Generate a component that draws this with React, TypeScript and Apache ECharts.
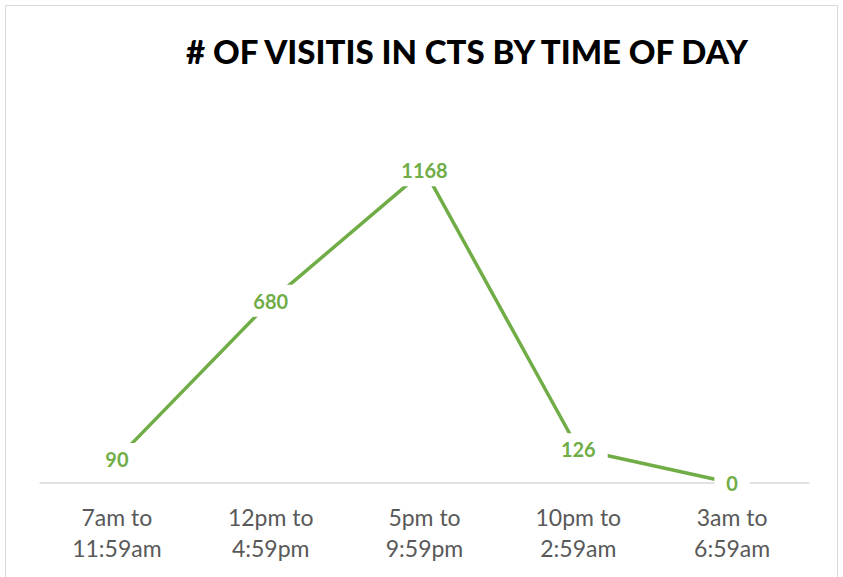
import React, { useEffect, useRef } from "react";
import * as echarts from "echarts";

const categories = [
  "7am to\n11:59am",
  "12pm to\n4:59pm",
  "5pm to\n9:59pm",
  "10pm to\n2:59am",
  "3am to\n6:59am",
];
const visits = [90, 680, 1168, 126, 0];
const titleText = "# OF VISITIS IN CTS BY TIME OF DAY";

export default function App() {
  const ref = useRef<HTMLDivElement>(null);
  useEffect(() => {
    if (!ref.current) return;
    const chart = echarts.init(ref.current, null, { renderer: "svg" });
    chart.setOption({
      animation: false,
      backgroundColor: "#ffffff",
      title: {
        text: titleText,
        left: 462,
        top: 29,
        textAlign: "center",
        textStyle: {
          fontFamily: "Lato",
          fontWeight: 900,
          fontSize: 33,
          color: "#000000",
        },
      },
      graphic: [
        {
          type: "rect",
          shape: { x: 5.5, y: 5.5, width: 832, height: 600 },
          style: { fill: "none", stroke: "#d9d9d9", lineWidth: 1 },
          silent: true,
        },
      ],
      grid: { left: 40, right: 34, top: 108, bottom: 94 },
      xAxis: {
        type: "category",
        data: categories,
        boundaryGap: true,
        axisLine: { lineStyle: { color: "#d9d9d9", width: 1.5 } },
        axisTick: { show: false },
        axisLabel: {
          color: "#595959",
          fontFamily: "Lato",
          fontSize: 23,
          lineHeight: 31,
          margin: 18,
        },
      },
      yAxis: {
        type: "value",
        min: 0,
        max: 1400,
        show: false,
        splitLine: { show: false },
      },
      series: [
        {
          type: "line",
          data: visits,
          showSymbol: true,
          symbol: "circle",
          symbolSize: 2,
          itemStyle: { color: "#70AD47" },
          lineStyle: { color: "#70AD47", width: 3.5 },
          z: 3,
          label: {
            show: true,
            position: "inside",
            color: "#70AD47",
            fontFamily: "Lato",
            fontWeight: "bold",
            fontSize: 20,
            backgroundColor: "#ffffff",
            padding: [6, 12],
          },
        },
      ],
    });
    return () => chart.dispose();
  }, []);
  return (
    <div
      ref={ref}
      style={{ position: "absolute", left: 0, top: 0, width: 843, height: 577 }}
    />
  );
}
